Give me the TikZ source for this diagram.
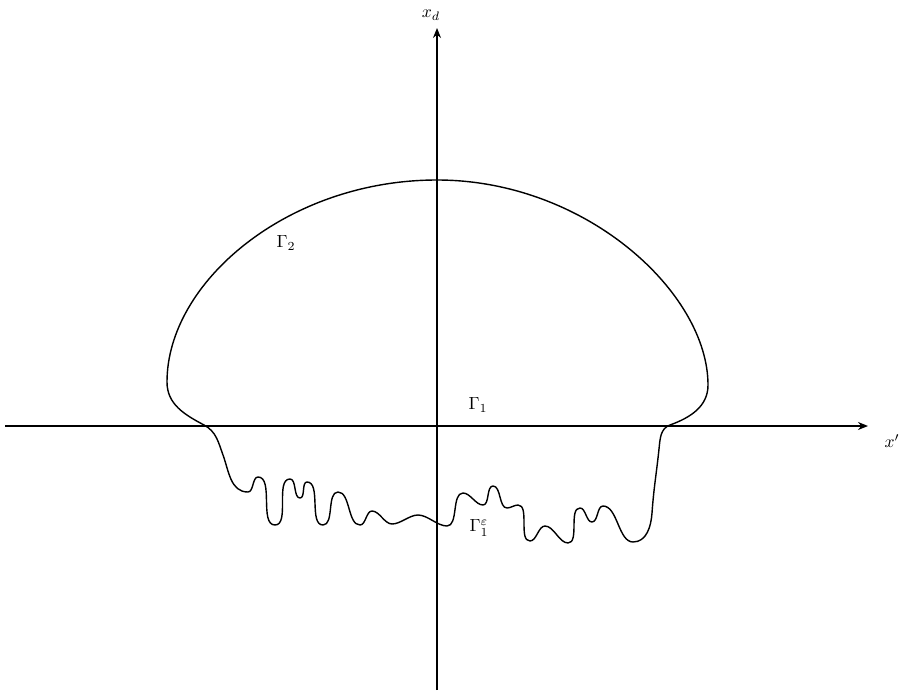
\documentclass[tikz,border=0pt]{standalone}
\usetikzlibrary{arrows.meta}
\tikzset{
  axis/.style       = {-{Stealth[length=2mm,width=1.6mm]}, thick},
  boundary/.style   = {thick, line join=round},
  flat/.style       = {thick, dash pattern=on 3mm off 1.4mm},
  wig/.style        = {out=180, in=0, looseness=0.8},
  curvelabel/.style = {font=\normalsize},
}
\begin{document}
\begin{tikzpicture}[x=0.2mm, y=0.2mm]
    \useasboundingbox (0,0) rectangle (899,693);

    % axes
    \coordinate (xleft)   at (5,267);
    \coordinate (xright)  at (868,267);
    \coordinate (ybottom) at (437,3);
    \coordinate (ytop)    at (437,665);
    \draw[axis] (xleft) -- (xright);
    \draw[axis] (ybottom) -- (ytop);
    \node (xdlab) at (431,678) {$x_d$};
    \node (xplab) at (892,252) {$x'$};

    % flat part Gamma_1
    \coordinate (gleft)  at (205,267);
    \coordinate (gright) at (669,267);
    \draw[flat] (gleft) -- (gright);

    % the domain boundary: arch, then the rough bottom
    \draw[boundary] (437,513) .. controls (586,513) and (708,400) .. (708,308)
      to[out=-90, in=20]  (670,268)
      to[out=200, in=84]  (659,244)
      to[out=-96, in=86]  (652,180)
      to[out=-94, in=0]   (633,151)
      to[wig] (603,187) to[wig] (592,171) to[wig] (580,185)
      to[wig] (568,150) to[wig] (545,167) to[wig] (530,152)
      to[wig] (518,188) to[wig] (507,185) to[wig] (493,207)
      to[wig] (483,188) to[wig] (463,200) to[wig] (447,167)
      to[wig] (418,178) to[wig] (392,169) to[wig] (372,182)
      to[wig] (360,168) to[wig] (338,201) to[wig] (323,168)
      to[wig] (307,211) to[wig] (300,195) to[wig] (290,214)
      to[wig] (275,168) to[wig] (258,216) to[wig] (248,201)
      to[out=180, in=-70] (223,238)
      to[out=110, in=-28] (204,268)
      to[out=152, in=-90] (167,311)
      .. controls (167,411) and (288,513) .. cycle;

    % labels
    \node[curvelabel] (gtwo) at (286,450) {$\Gamma_2$};
    \node[curvelabel] (gone) at (478,288) {$\Gamma_1$};
    \node[curvelabel] (geps) at (479,165) {$\Gamma_1^\varepsilon$};

\end{tikzpicture}
\end{document}
